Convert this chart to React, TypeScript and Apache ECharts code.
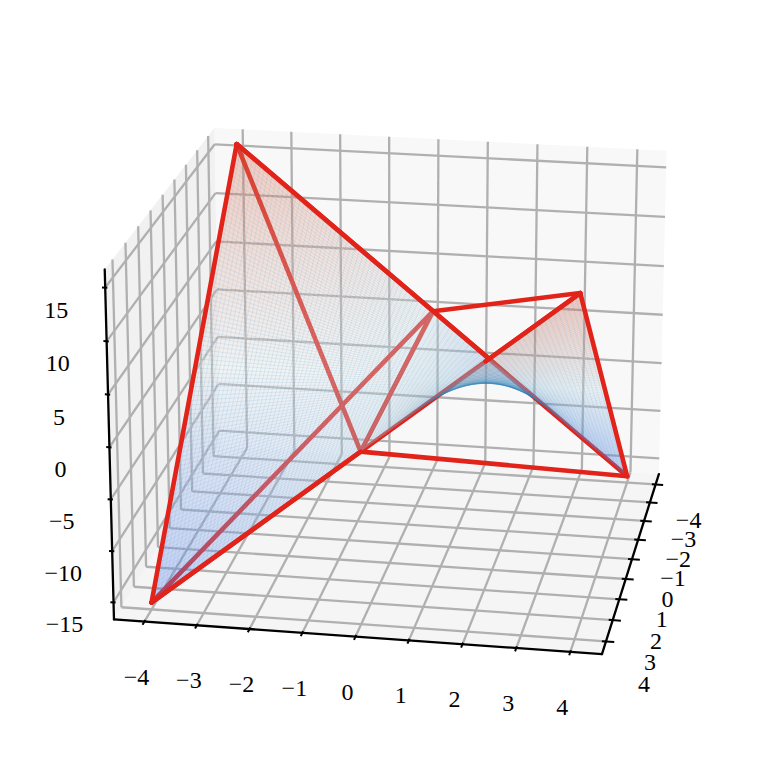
import React, { useEffect, useRef } from "react";
import * as echarts from "echarts";

const SIZE = 777;

// Tick values and their labels.
const xTicks = [-4, -3, -2, -1, 0, 1, 2, 3, 4];
const yTicks = [-4, -3, -2, -1, 0, 1, 2, 3, 4];
const zTicks = [-15, -10, -5, 0, 5, 10, 15];
const xLabels = ["−4", "−3", "−2", "−1", "0", "1", "2", "3", "4"];
const yLabels = ["−4", "−3", "−2", "−1", "0", "1", "2", "3", "4"];
const zLabels = ["−15", "−10", "−5", "0", "5", "10", "15"];

// Mesh positions along both horizontal axes.
const meshValues = [
  -4, -3.919, -3.838, -3.758, -3.677, -3.596, -3.515, -3.434, -3.354, -3.273,
  -3.192, -3.111, -3.03, -2.949, -2.869, -2.788, -2.707, -2.626, -2.545, -2.465,
  -2.384, -2.303, -2.222, -2.141, -2.061, -1.98, -1.899, -1.818, -1.737, -1.657,
  -1.576, -1.495, -1.414, -1.333, -1.253, -1.172, -1.091, -1.01, -0.929, -0.848,
  -0.768, -0.687, -0.606, -0.525, -0.444, -0.364, -0.283, -0.202, -0.121, -0.04,
  0.04, 0.121, 0.202, 0.283, 0.364, 0.444, 0.525, 0.606, 0.687, 0.768,
  0.848, 0.929, 1.01, 1.091, 1.172, 1.253, 1.333, 1.414, 1.495, 1.576,
  1.657, 1.737, 1.818, 1.899, 1.98, 2.061, 2.141, 2.222, 2.303, 2.384,
  2.465, 2.545, 2.626, 2.707, 2.788, 2.869, 2.949, 3.03, 3.111, 3.192,
  3.273, 3.354, 3.434, 3.515, 3.596, 3.677, 3.758, 3.838, 3.919, 4,
];

// Red chords, as [x, y, z] end points.
const chordsBelow = [
  [[-4, -4, 16], [4, 0, 0]],
  [[-4, 0, 0], [4, -4, -16]],
  [[-4, 0, 0], [4, 4, 16]],
  [[-4, 0, 0], [4, 0, 0]],
  [[4, 0, 0], [-4, 4, -16]],
  [[4, -4, -16], [4, 4, 16]],
  [[-4, -4, 16], [-4, 4, -16]],
];
const chordsAbove = [
  [[-4, -4, 16], [4, -4, -16]],
  [[-4, -4, 16], [-4, 1.15, -4.6]],
  [[4, -4, -16], [4, 0, 0]],
  [[4, 2.3, 9.2], [4, 4, 16]],
  [[4, 4, 16], [-4, 4, -16]],
];

// The axes' limits.
const XY_LIM = 4.583;
const Z_LIM = 16.67;

// View as in a mplot3d camera: elevation 20, azimuth 10, distance 10.
const ELEV = (20 * Math.PI) / 180;
const AZIM = (10 * Math.PI) / 180;
const HALF_XY = 0.595;
const HALF_Z = 0.4465;
const SCALE = 4005;
const CX = 398.6;
const CY = 378;
const r = [-Math.sin(AZIM), Math.cos(AZIM), 0];
const u = [-Math.sin(ELEV) * Math.cos(AZIM), -Math.sin(ELEV) * Math.sin(AZIM), Math.cos(ELEV)];
const n = [Math.cos(ELEV) * Math.cos(AZIM), Math.cos(ELEV) * Math.sin(AZIM), Math.sin(ELEV)];
const dot = (a: number[], b: number[]) => a[0] * b[0] + a[1] * b[1] + a[2] * b[2];
function toBox(p: number[]) {
  return [(p[0] / XY_LIM) * HALF_XY, (p[1] / XY_LIM) * HALF_XY, (p[2] / Z_LIM) * HALF_Z];
}
function project(p: number[]) {
  const b = toBox(p);
  const d = 10 - dot(b, n);
  return [CX + (SCALE * dot(b, r)) / d, CY - (SCALE * dot(b, u)) / d];
}
const depth = (p: number[]) => dot(toBox(p), n);

const L = XY_LIM;
const Z = Z_LIM;

function mix(a: number[], b: number[], t: number) {
  return [0, 1, 2].map((i) => Math.round(a[i] + (b[i] - a[i]) * t));
}
const LOW = [80, 125, 240];
const MID = [226, 236, 238];
const HIGH = [228, 105, 70];
function faceColor(z: number) {
  const t = z / 16;
  const c = t < 0 ? mix(MID, LOW, -t) : mix(MID, HIGH, t);
  return `rgba(${c[0]},${c[1]},${c[2]},0.34)`;
}

// The surface plotted is the function z = x * y over the mesh.
const surfaceZ = meshValues.map((x) => meshValues.map((y) => x * y));

type Seg = number[][];
function segmentSeries(name: string, segs: Seg[], stroke: string, width: number, z: number, cap = "butt") {
  return {
    type: "custom",
    name,
    coordinateSystem: "cartesian2d",
    silent: true,
    clip: false,
    z,
    progressive: 0,
    encode: { x: 0, y: 1 },
    data: segs.map((s) => [...project(s[0]), ...project(s[1])]),
    renderItem: (_: any, api: any) => {
      const a = api.coord([api.value(0), api.value(1)]);
      const b = api.coord([api.value(2), api.value(3)]);
      return {
        type: "line",
        shape: { x1: a[0], y1: a[1], x2: b[0], y2: b[1] },
        style: { stroke, lineWidth: width, lineCap: cap, fill: "none" },
      };
    },
  };
}

function polygonSeries(name: string, polys: { pts: number[][]; fill: string }[], z: number) {
  return {
    type: "custom",
    name,
    coordinateSystem: "cartesian2d",
    silent: true,
    clip: false,
    z,
    progressive: 0,
    encode: { x: 0, y: 1 },
    data: polys.map((p, i) => [...project(p.pts[0]), i]),
    renderItem: (params: any, api: any) => {
      const p = polys[params.dataIndex];
      return {
        type: "polygon",
        shape: {
          points: p.pts.map((q) => {
            const s = project(q);
            return api.coord([s[0], s[1]]);
          }),
        },
        style: { fill: p.fill, stroke: "none" },
      };
    },
  };
}

function labelSeries(name: string, items: { at: number[]; text: string }[], z: number) {
  return {
    type: "custom",
    name,
    coordinateSystem: "cartesian2d",
    silent: true,
    clip: false,
    z,
    encode: { x: 0, y: 1 },
    data: items.map((it) => it.at),
    renderItem: (params: any, api: any) => {
      const c = api.coord([api.value(0), api.value(1)]);
      return {
        type: "text",
        x: c[0],
        y: c[1],
        style: {
          text: items[params.dataIndex].text,
          fontFamily: '"Liberation Serif"',
          fontSize: 24,
          fill: "#000",
          align: "center",
          verticalAlign: "middle",
        },
      };
    },
  };
}

function buildOption() {
  const panes = [
    { pts: [[-L, -L, -Z], [-L, L, -Z], [-L, L, Z], [-L, -L, Z]], fill: "#f8f8f8" },
    { pts: [[-L, -L, -Z], [L, -L, -Z], [L, -L, Z], [-L, -L, Z]], fill: "#f1f1f1" },
    { pts: [[-L, -L, -Z], [L, -L, -Z], [L, L, -Z], [-L, L, -Z]], fill: "#f5f5f5" },
  ];
  const grid: Seg[] = [];
  xTicks.forEach((x) => {
    grid.push([[x, L, -Z], [x, -L, -Z]]);
    grid.push([[x, -L, -Z], [x, -L, Z]]);
  });
  yTicks.forEach((y) => {
    grid.push([[L, y, -Z], [-L, y, -Z]]);
    grid.push([[-L, y, -Z], [-L, y, Z]]);
  });
  zTicks.forEach((t) => {
    grid.push([[L, -L, t], [-L, -L, t]]);
    grid.push([[-L, -L, t], [-L, L, t]]);
  });

  const axes: Seg[] = [
    [[L, -L, -Z], [L, L, -Z]],
    [[L, L, -Z], [-L, L, -Z]],
    [[L, -L, -Z], [L, -L, Z]],
  ];
  const ticks: Seg[] = [];
  xTicks.forEach((x) => ticks.push([[x, L - 0.076, -Z], [x, L + 0.153, -Z]]));
  yTicks.forEach((y) => ticks.push([[L - 0.076, y, -Z], [L + 0.153, y, -Z]]));
  zTicks.forEach((t) => ticks.push([[L, -L + 0.04, t], [L, -L - 0.06, t]]));

  const faces: { pts: number[][]; fill: string; d: number }[] = [];
  for (let i = 0; i < meshValues.length - 1; i++) {
    for (let j = 0; j < meshValues.length - 1; j++) {
      const a = [meshValues[i], meshValues[j], surfaceZ[i][j]];
      const b = [meshValues[i + 1], meshValues[j], surfaceZ[i + 1][j]];
      const c = [meshValues[i + 1], meshValues[j + 1], surfaceZ[i + 1][j + 1]];
      const e = [meshValues[i], meshValues[j + 1], surfaceZ[i][j + 1]];
      const mean = (a[2] + b[2] + c[2] + e[2]) / 4;
      faces.push({ pts: [a, b, c, e], fill: faceColor(mean), d: (depth(a) + depth(c)) / 2 });
    }
  }
  faces.sort((p, q) => p.d - q.d);

  const last = meshValues.length - 1;
  const wires: Seg[] = [];
  meshValues.forEach((v, i) => {
    wires.push([[v, meshValues[0], surfaceZ[i][0]], [v, meshValues[last], surfaceZ[i][last]]]);
    wires.push([[meshValues[0], v, surfaceZ[0][i]], [meshValues[last], v, surfaceZ[last][i]]]);
  });

  const yItems = yTicks.map((y, i) => {
    const p = project([L, y, -Z]);
    return { at: [p[0] - 8, p[1] + 55], text: yLabels[i] };
  });
  const xItems = xTicks.map((x, i) => {
    const p = project([x, L, -Z]);
    const t = i / (xTicks.length - 1);
    return { at: [p[0] + 33 + 5 * t, p[1] + 36 + 7 * t], text: xLabels[i] };
  });
  const zItems = zTicks.map((t, i) => {
    const p = project([L, -L, t]);
    return { at: [p[0] - 49, p[1] + 22], text: zLabels[i] };
  });

  return {
    animation: false,
    backgroundColor: "#ffffff",
    grid: { left: 0, right: 0, top: 0, bottom: 0 },
    xAxis: { type: "value", min: 0, max: SIZE, show: false },
    yAxis: { type: "value", min: 0, max: SIZE, inverse: true, show: false },
    series: [
      polygonSeries("panes", panes, 1),
      segmentSeries("grid", grid, "#b0b0b0", 2.3, 2),
      segmentSeries("axes", axes, "#000", 2.3, 3, "round"),
      segmentSeries("ticks", ticks, "#000", 2, 3),
      labelSeries("y labels", yItems, 3),
      labelSeries("x labels", xItems, 3),
      labelSeries("z labels", zItems, 3),
      segmentSeries("chords", chordsBelow as Seg[], "#e1231a", 4.6, 4, "round"),
      polygonSeries("surface", faces, 5),
      segmentSeries("mesh", wires, "rgba(50,135,190,0.17)", 0.65, 6),
      segmentSeries("edges", chordsAbove as Seg[], "#e1231a", 4.6, 7, "round"),
    ],
  };
}

export default function App() {
  const ref = useRef<HTMLDivElement>(null);
  useEffect(() => {
    const chart = echarts.init(ref.current!, undefined, { renderer: "svg" });
    chart.setOption(buildOption() as any);
    return () => chart.dispose();
  }, []);
  return <div ref={ref} style={{ position: "fixed", left: 0, top: 0, width: SIZE, height: SIZE }} />;
}
